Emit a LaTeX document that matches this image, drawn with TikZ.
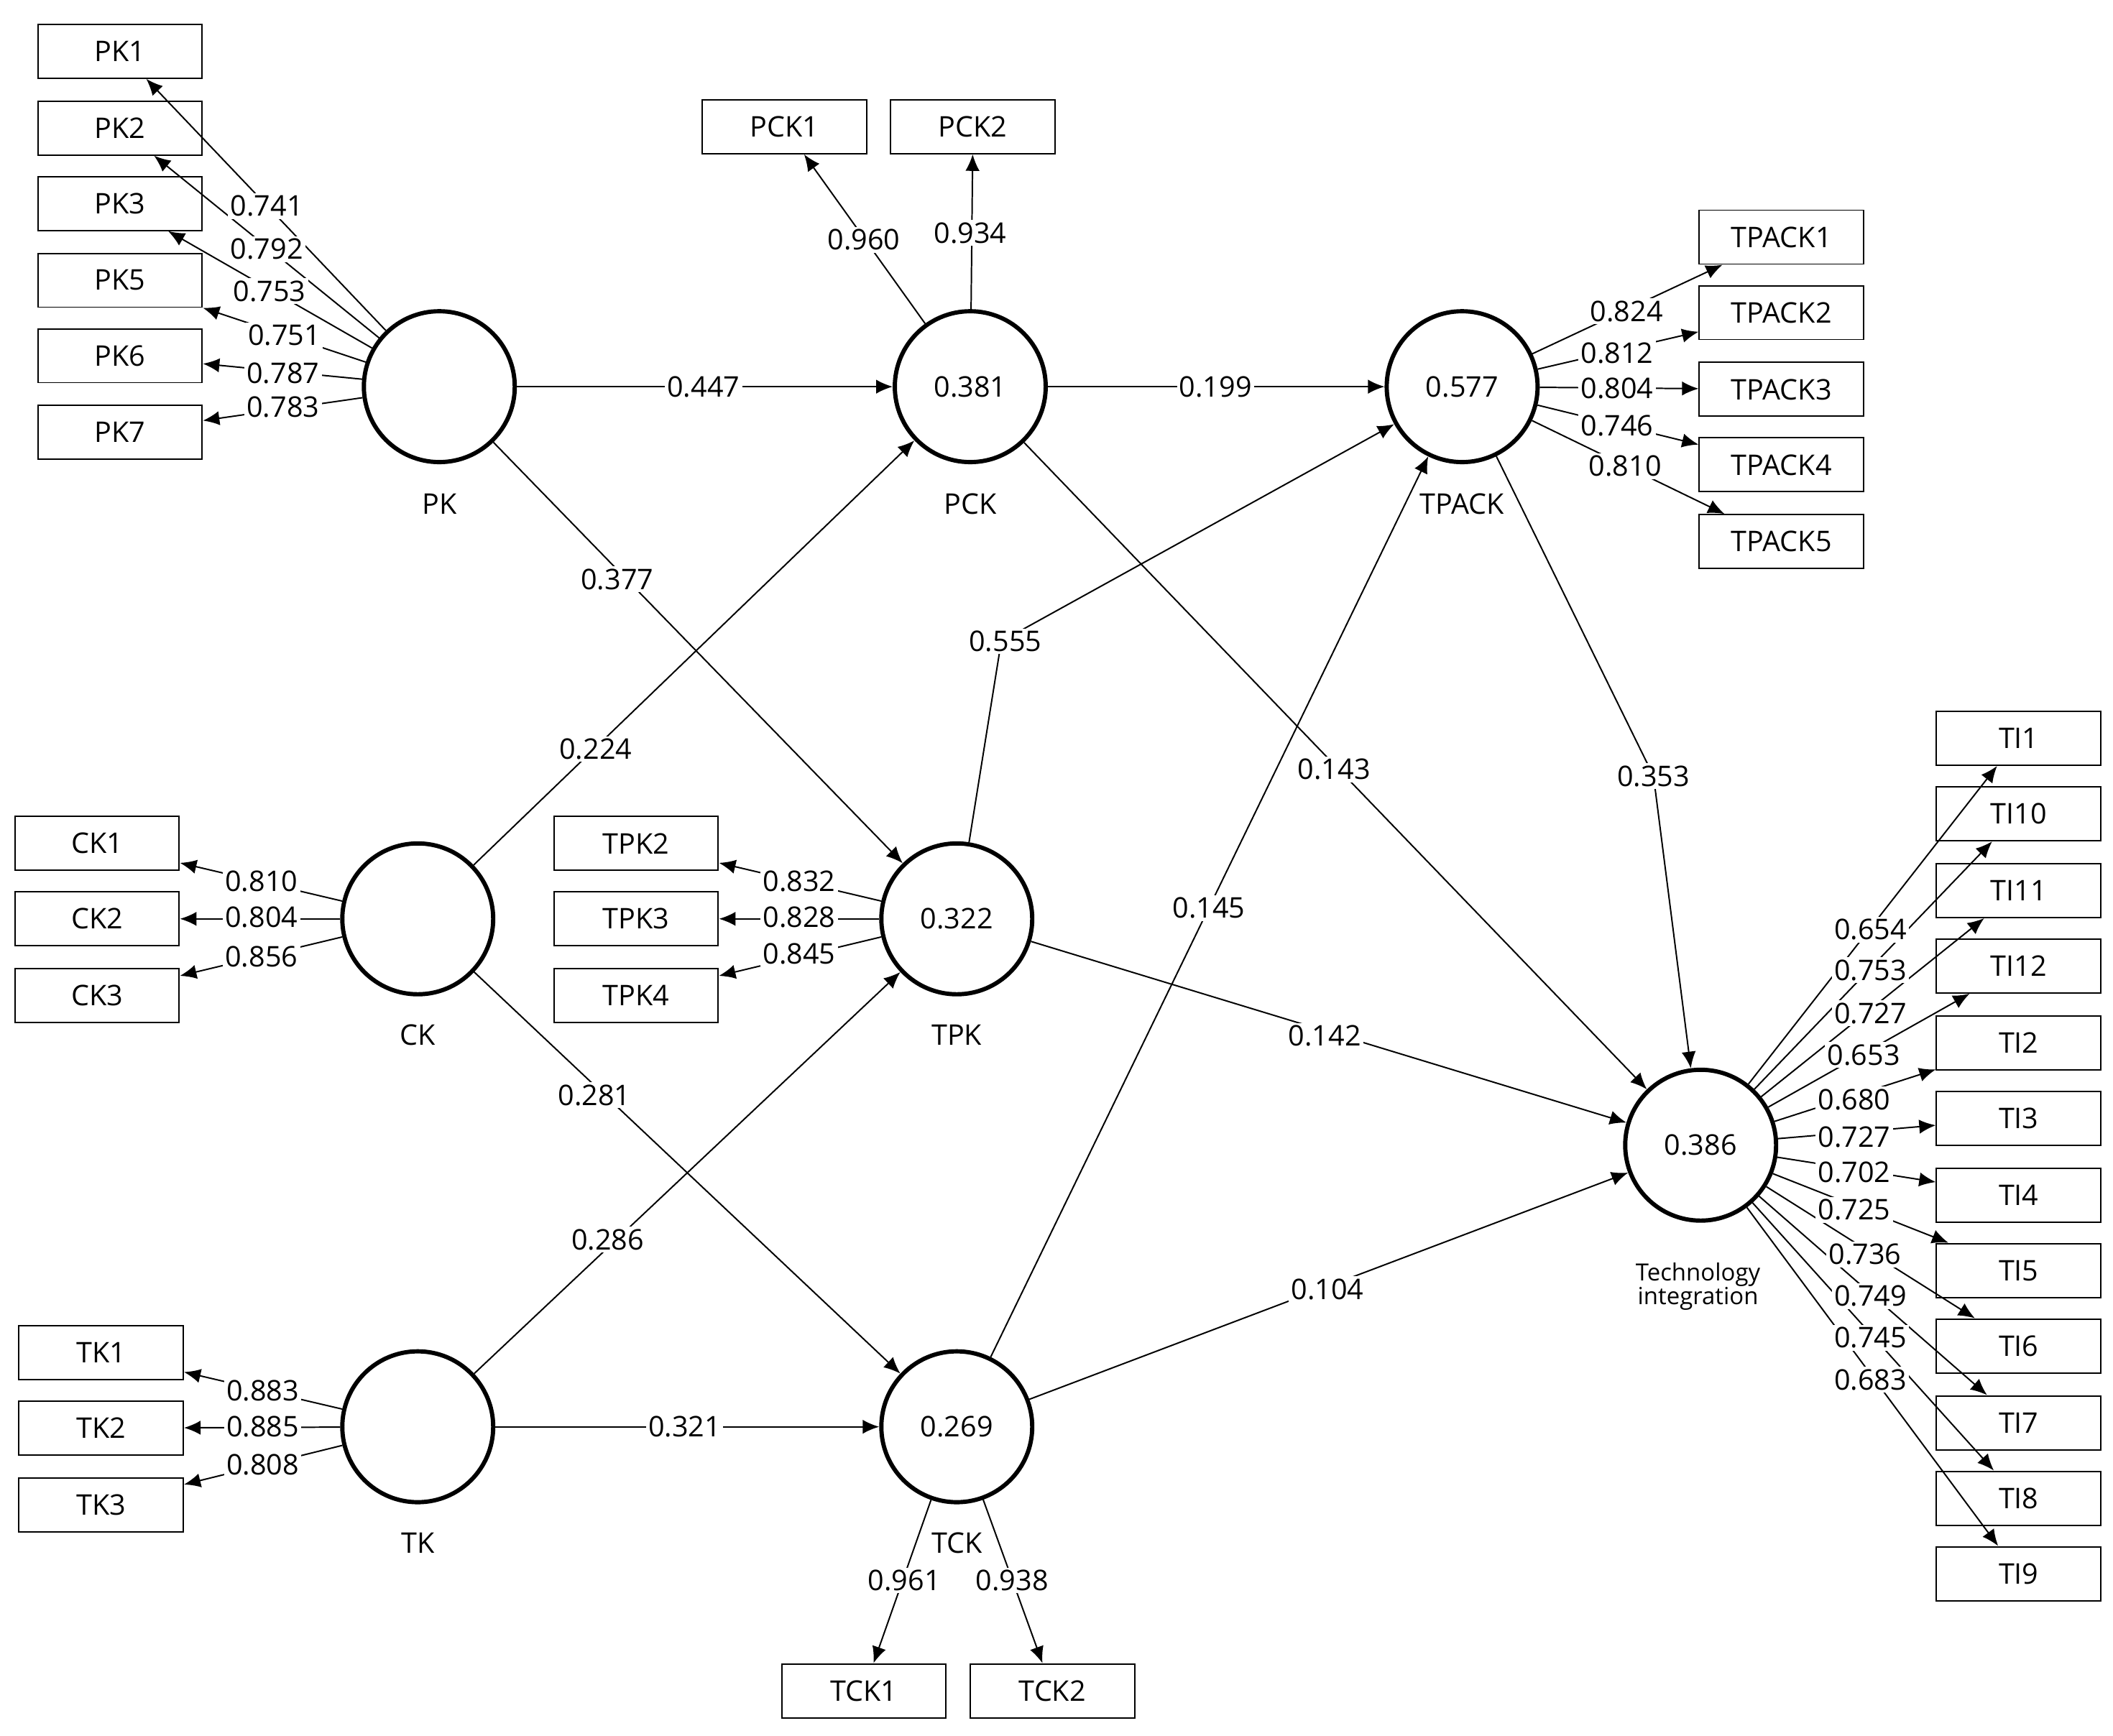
\documentclass[tikz,border=0pt]{standalone}
\usepackage{fontspec}
\setmainfont{Open Sans}
\usetikzlibrary{arrows.meta}
\begin{document}
\begin{tikzpicture}[x=0.02cm,y=-0.02cm,
  lv/.style={circle,draw,line width=1.8pt,minimum size=2.24cm,inner sep=0pt,font=\large},
  ind/.style={draw,line width=0.6pt,minimum width=2.44cm,minimum height=0.8cm,inner sep=0pt,font=\large},
  ar/.style={line width=0.6pt,-{Latex[length=7pt,width=6pt]}},
  lb/.style={fill=white,inner sep=1pt,font=\large},
  lvcap/.style={font=\large,align=center}]
\useasboundingbox (0,0) rectangle (1568,1288);
% latent variables
\node[lv] (PK) at (326,287) {};
\node[lv] (PCK) at (720,287) {0.381};
\node[lv] (TPACK) at (1085,287) {0.577};
\node[lv] (CK) at (310,682) {};
\node[lv] (TPK) at (710,682) {0.322};
\node[lv] (TK) at (310,1059) {};
\node[lv] (TCK) at (710,1059) {0.269};
\node[lv] (TI) at (1262,850) {0.386};
\node[lvcap] (lPK) at (326,374) {PK};
\node[lvcap] (lPCK) at (720,374) {PCK};
\node[lvcap] (lTPACK) at (1085,374) {TPACK};
\node[lvcap] (lCK) at (310,768) {CK};
\node[lvcap] (lTPK) at (710,768) {TPK};
\node[lvcap] (lTK) at (310,1145) {TK};
\node[lvcap] (lTCK) at (710,1145) {TCK};
\node[lvcap,font=\normalsize] (lTI) at (1260,955) {Technology\\[-2pt]integration};
% indicators
\foreach \n/\y in {PK1/38,PK2/95,PK3/151,PK5/208,PK6/264,PK7/321}
  \node[ind] (\n) at (89,\y) {\n};
\foreach \n/\x in {PCK1/582,PCK2/722}
  \node[ind] (\n) at (\x,94) {\n};
\foreach \n/\y in {TPACK1/176,TPACK2/232,TPACK3/289,TPACK4/345,TPACK5/402}
  \node[ind] (\n) at (1322,\y) {\n};
\foreach \n/\y in {CK1/626,CK2/682,CK3/739}
  \node[ind] (\n) at (72,\y) {\n};
\foreach \n/\y in {TPK2/626,TPK3/682,TPK4/739}
  \node[ind] (\n) at (472,\y) {\n};
\foreach \n/\y in {TK1/1004,TK2/1060,TK3/1117}
  \node[ind] (\n) at (75,\y) {\n};
\foreach \n/\x in {TCK1/641,TCK2/781}
  \node[ind] (\n) at (\x,1255) {\n};
\foreach \n/\y in {TI1/548,TI10/604,TI11/661,TI12/717,TI2/774,TI3/830,TI4/887,TI5/943,TI6/999,TI7/1056,TI8/1112,TI9/1168}
  \node[ind] (\n) at (1498,\y) {\n};
% outer loadings
\foreach \s/\t in {PK/PK1,PK/PK2,PK/PK3,PK/PK5,PK/PK6,PK/PK7,PCK/PCK1,PCK/PCK2,
  TPACK/TPACK1,TPACK/TPACK2,TPACK/TPACK3,TPACK/TPACK4,TPACK/TPACK5,
  CK/CK1,CK/CK2,CK/CK3,TPK/TPK2,TPK/TPK3,TPK/TPK4,TK/TK1,TK/TK2,TK/TK3,TCK/TCK1,TCK/TCK2,
  TI/TI1,TI/TI10,TI/TI11,TI/TI12,TI/TI2,TI/TI3,TI/TI4,TI/TI5,TI/TI6,TI/TI7,TI/TI8,TI/TI9}
  \draw[ar] (\s) -- (\t);
% bend points
\coordinate (b555) at (743,476);
\coordinate (b353) at (1227,576);
% structural paths
\draw[ar] (PK) -- (PCK);
\draw[ar] (PK) -- (TPK);
\draw[ar] (PCK) -- (TPACK);
\draw[ar] (PCK) -- (TI);
\draw[ar] (CK) -- (PCK);
\draw[ar] (CK) -- (TCK);
\draw[ar] (TPK) -- (b555) -- (TPACK);
\draw[ar] (TPK) -- (TI);
\draw[ar] (TPACK) -- (b353) -- (TI);
\draw[ar] (TK) -- (TPK);
\draw[ar] (TK) -- (TCK);
\draw[ar] (TCK) -- (TPACK);
\draw[ar] (TCK) -- (TI);
% labels
\foreach \v/\x/\y [count=\i] in {0.447/522/287,0.377/458/430,0.224/442/556,0.199/902/287,0.143/990/571,
  0.555/746/476,0.353/1227/576,0.142/983/769,0.281/441/813,0.286/451/920,0.145/897/674,0.321/508/1059,0.104/985/957,
  0.741/198/153,0.792/198/185,0.753/200/216,0.751/211/249,0.787/210/277,0.783/210/302,
  0.960/641/178,0.934/720/173,
  0.824/1207/231,0.812/1200/262,0.804/1200/288,0.746/1200/316,0.810/1206/346,
  0.810/194/654,0.804/194/681,0.856/194/710,
  0.832/593/654,0.828/593/681,0.845/593/708,
  0.883/195/1032,0.885/195/1059,0.808/195/1087,
  0.961/671/1173,0.938/751/1173,
  0.654/1388/690,0.753/1388/720,0.727/1388/752,0.653/1383/783,0.680/1376/816,0.727/1376/844,
  0.702/1376/870,0.725/1376/898,0.736/1384/931,0.749/1388/962,0.745/1388/993,0.683/1388/1024}
  \node[lb] (L\i) at (\x,\y) {\v};
\end{tikzpicture}
\end{document}
